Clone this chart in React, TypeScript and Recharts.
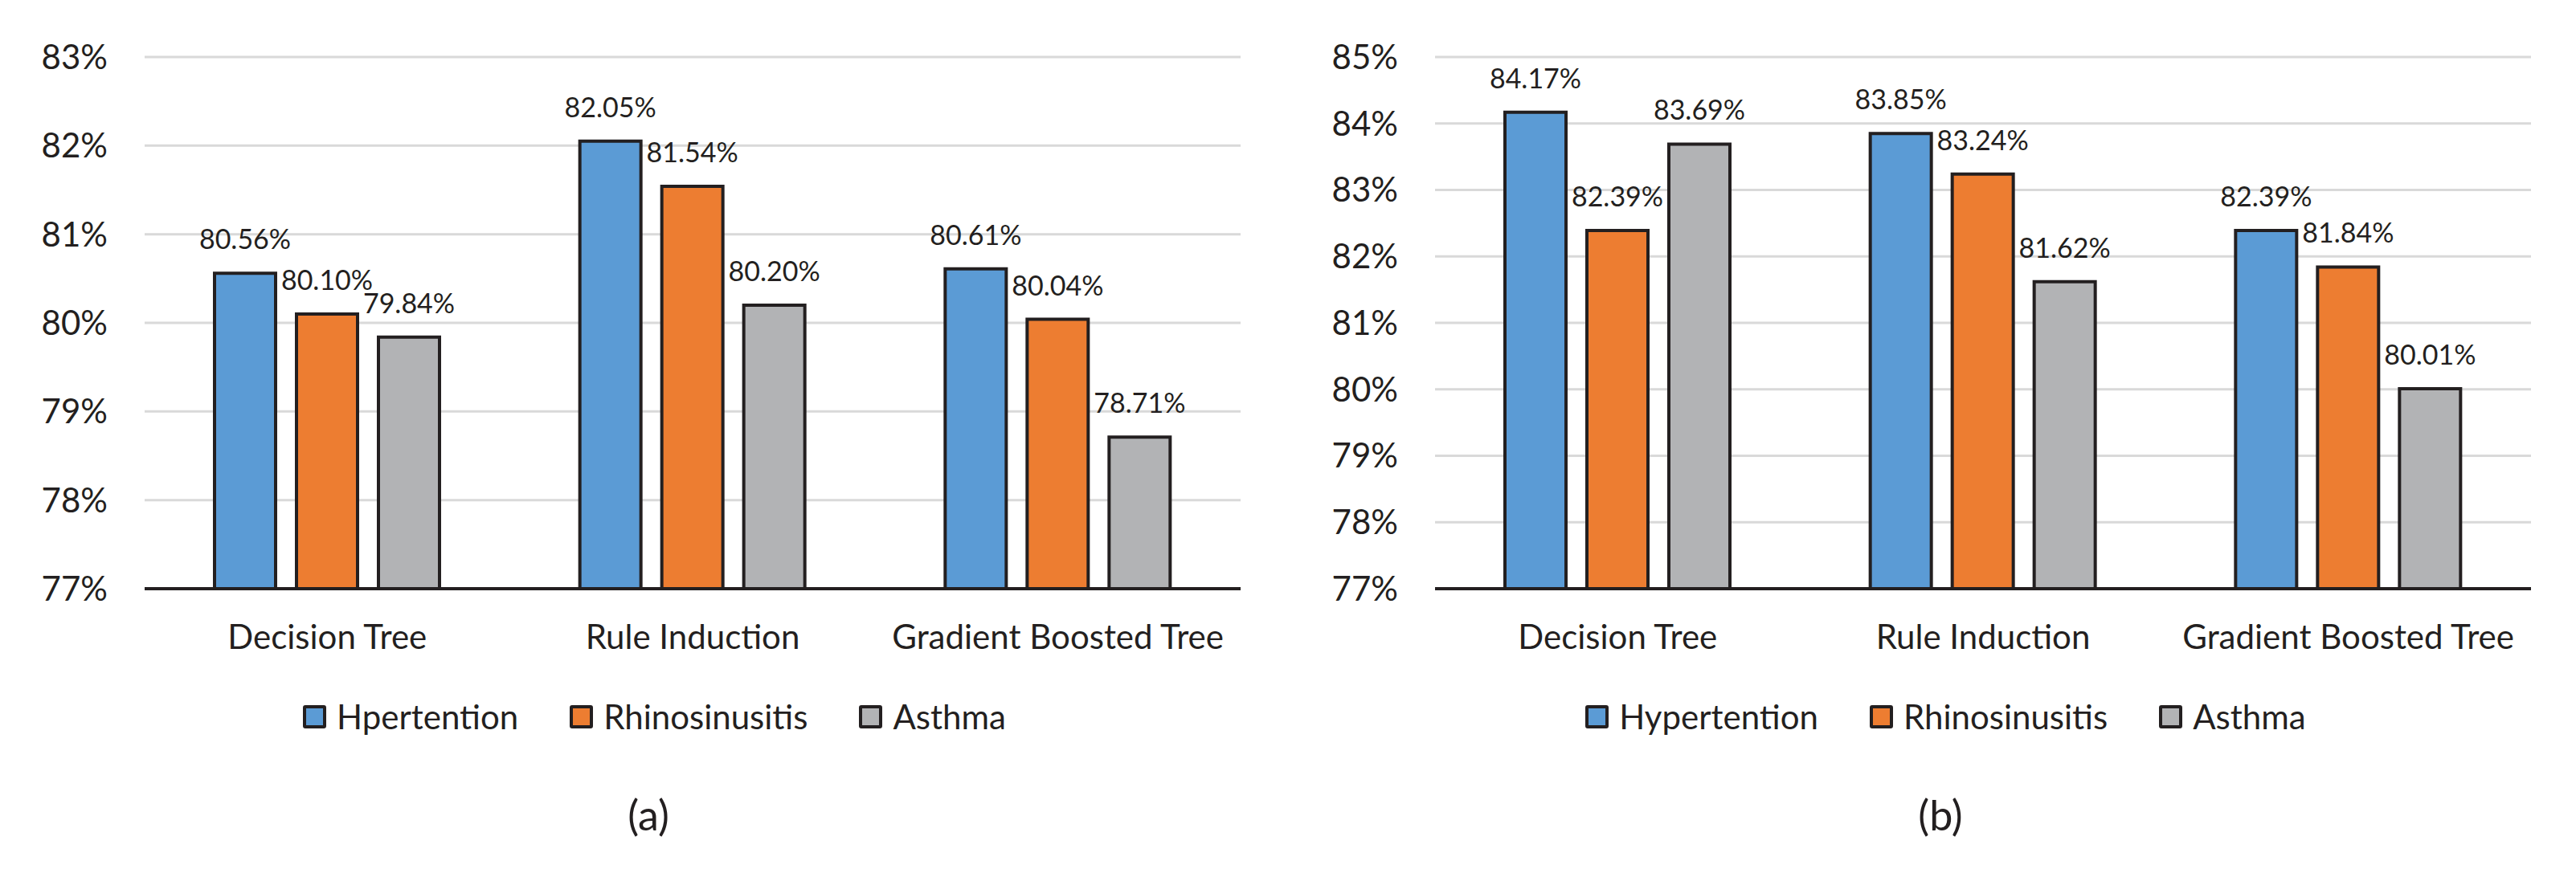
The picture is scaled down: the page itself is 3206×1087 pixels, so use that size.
import React from 'react';
import {
  BarChart,
  Bar,
  XAxis,
  YAxis,
  CartesianGrid,
  Legend,
  LabelList,
} from 'recharts';

// categories and values
const categories = ['Decision Tree', 'Rule Induction', 'Gradient Boosted Tree'];

const hypertensionA = [80.56, 82.05, 80.61];
const rhinosinusitisA = [80.1, 81.54, 80.04];
const asthmaA = [79.84, 80.2, 78.71];

const hypertensionB = [84.17, 83.85, 82.39];
const rhinosinusitisB = [82.39, 83.24, 81.84];
const asthmaB = [83.69, 81.62, 80.01];

const ticksA = [77, 78, 79, 80, 81, 82, 83];
const ticksB = [77, 78, 79, 80, 81, 82, 83, 84, 85];

const seriesNamesA = ['Hpertention', 'Rhinosinusitis', 'Asthma'];
const seriesNamesB = ['Hypertention', 'Rhinosinusitis', 'Asthma'];

const COLORS = ['#5b9bd5', '#ed7d31', '#b2b3b5'];
const INK = '#231f20';
const FONT = 'Lato, "Open Sans", sans-serif';

const CHART_W = 1603;
const CHART_H = 1087;

const buildRows = (h: number[], r: number[], a: number[]) =>
  categories.map((name, i) => ({ name, h: h[i], r: r[i], a: a[i] }));

const dataA = buildRows(hypertensionA, rhinosinusitisA, asthmaA);
const dataB = buildRows(hypertensionB, rhinosinusitisB, asthmaB);

const pct = (v: any) => `${Number(v).toFixed(2)}%`;

// keep legend in series order (recharts sorts by name otherwise)
const LegendContent = ({ payload, names }: any) => {
  const items = [...(payload || [])].sort(
    (a: any, b: any) => names.indexOf(a.value) - names.indexOf(b.value)
  );
  return (
    <div
      style={{
        display: 'flex',
        justifyContent: 'center',
        gap: 64,
        fontFamily: FONT,
        fontSize: 42,
        color: INK,
        lineHeight: '50px',
      }}
    >
      {items.map((p: any, i: number) => (
        <div key={i} style={{ display: 'flex', alignItems: 'center' }}>
          <span
            style={{
              display: 'inline-block',
              width: 21,
              height: 21,
              border: `4px solid ${INK}`,
              borderRadius: 3,
              background: p.color || COLORS[names.indexOf(p.value)],
              marginRight: 13,
            }}
          />
          <span>{p.value}</span>
        </div>
      ))}
    </div>
  );
};

interface PanelProps {
  data: any[];
  ticks: number[];
  names: string[];
  yAxisWidth: number;
  rightMargin: number;
  legendShift: number;
}

const Panel: React.FC<PanelProps> = ({ data, ticks, names, yAxisWidth, rightMargin, legendShift }) => (
  <BarChart
    width={CHART_W}
    height={CHART_H}
    data={data}
    margin={{ top: 71, right: rightMargin, left: 0, bottom: CHART_H - 733 - 80 }}
    barSize={76}
    barGap={26}
  >
    <CartesianGrid vertical={false} stroke="#d9d9d9" strokeWidth={3} />
    <XAxis
      dataKey="name"
      height={80}
      interval={0}
      tickLine={false}
      tickSize={0}
      tickMargin={45}
      axisLine={{ stroke: INK, strokeWidth: 4 }}
      tick={{ fill: INK, fontSize: 42, fontFamily: FONT }}
    />
    <YAxis
      width={yAxisWidth}
      domain={[ticks[0], ticks[ticks.length - 1]]}
      ticks={ticks}
      tickFormatter={(v) => `${v}%`}
      axisLine={false}
      tickLine={false}
      tickSize={0}
      tickMargin={46}
      tick={{ fill: INK, fontSize: 42, fontFamily: FONT }}
    />
    <Legend
      verticalAlign="middle"
      align="center"
      content={<LegendContent names={names} />}
      wrapperStyle={{ top: 867, left: legendShift, width: CHART_W }}
    />
    {['h', 'r', 'a'].map((key, i) => (
      <Bar
        key={key}
        dataKey={key}
        name={names[i]}
        fill={COLORS[i]}
        stroke={INK}
        strokeWidth={4}
        isAnimationActive={false}
      >
        <LabelList
          dataKey={key}
          position="top"
          offset={30}
          formatter={pct}
          fill={INK}
          fontSize={34}
          fontFamily={FONT}
        />
      </Bar>
    ))}
  </BarChart>
);

const captionStyle: React.CSSProperties = {
  position: 'absolute',
  top: 983,
  transform: 'translateX(-50%)',
  fontFamily: FONT,
  fontSize: 52,
  lineHeight: 1.2,
  color: INK,
};

const App: React.FC = () => (
  <div style={{ position: 'relative', width: 3206, height: 1087, background: '#fff', overflow: 'hidden' }}>
    <style>{'body { margin: 0; }'}</style>
    <div style={{ position: 'absolute', left: 0, top: 0 }}>
      <Panel data={dataA} ticks={ticksA} names={seriesNamesA} yAxisWidth={180} rightMargin={59} legendShift={13} />
    </div>
    <div style={{ position: 'absolute', left: CHART_W, top: 0 }}>
      <Panel data={dataB} ticks={ticksB} names={seriesNamesB} yAxisWidth={183} rightMargin={56} legendShift={17} />
    </div>
    <div style={{ ...captionStyle, left: 807 }}>(a)</div>
    <div style={{ ...captionStyle, left: 2415 }}>(b)</div>
  </div>
);

export default App;
